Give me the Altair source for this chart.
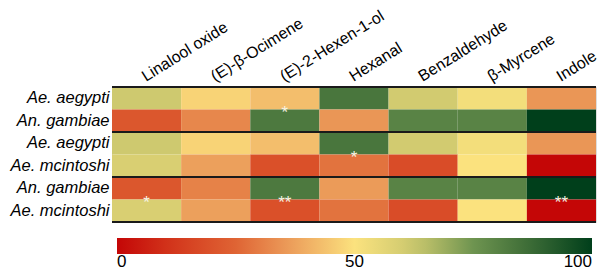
import altair as alt
import pandas as pd

compounds = ["Linalool oxide", "(E)-β-Ocimene", "(E)-2-Hexen-1-ol", "Hexanal",
             "Benzaldehyde", "β-Myrcene", "Indole"]
row_names = ["Ae. aegypti", "An. gambiae", "Ae. aegypti", "Ae. mcintoshi",
             "An. gambiae", "Ae. mcintoshi"]

r0 = [62, 47, 43, 84, 61, 52, 35]
r1 = [21, 32, 83, 35, 80, 80, 100]
r2 = [62, 47, 43, 84, 61, 52, 35]
r3 = [59, 37, 19, 28, 18, 50, 0]
r4 = [21, 31, 83, 36, 80, 80, 100]
r5 = [59, 37, 19, 28, 18, 50, 0]
rows_values = [r0, r1, r2, r3, r4, r5]

# significance marks: (second row of pair, compound index, label)
star_rows = [1, 3, 5, 5, 5]
star_cols = [2, 3, 0, 2, 6]
star_text = ["*", "*", "*", "**", "**"]

pair_top_rows = [0, 2, 4]
bottom_row = [5]

color_stops = [0, 12.5, 25, 37.5, 50, 62.5, 75, 87.5, 100]
color_range = ["#c40606", "#d43a1e", "#df6434", "#eda25e", "#fbe27e",
               "#ccc86e", "#6e9450", "#3a6a35", "#003f1b"]

W = 484
H = 135

cells = pd.DataFrame([
    {"row": i, "compound": compounds[j], "value": rows_values[i][j]}
    for i in range(len(rows_values)) for j in range(len(compounds))
])
stars = pd.DataFrame({
    "row": star_rows,
    "compound": [compounds[c] for c in star_cols],
    "label": star_text,
})
tops = pd.DataFrame({"row": pair_top_rows})
bottoms = pd.DataFrame({"row": bottom_row})

label_expr = "[" + ",".join("'" + n + "'" for n in row_names) + "][datum.value]"

xenc = alt.X("compound:N", sort=compounds,
             scale=alt.Scale(paddingInner=0, paddingOuter=0),
             axis=alt.Axis(orient="top", title=None, labelAngle=328,
                           labelAlign="left", labelBaseline="bottom",
                           labelPadding=3, labelOffset=1, ticks=False,
                           domain=False, labelBound=False, labelOverlap=False,
                           labelFontSize=16, labelFont="Liberation Sans",
                           labelColor="#000000"))
yscale = alt.Scale(domain=list(range(6)), paddingInner=0, paddingOuter=0)
yaxis = alt.Axis(title=None, labelExpr=label_expr, ticks=False, domain=False,
                 labelPadding=3, labelFontSize=16.5, labelFontStyle="italic",
                 labelFont="Liberation Sans", labelColor="#000000")

heat = alt.Chart(cells).mark_rect().encode(
    x=xenc,
    y=alt.Y("row:O", scale=yscale, axis=yaxis),
    color=alt.Color("value:Q",
                    scale=alt.Scale(domain=color_stops, range=color_range,
                                    interpolate="rgb"),
                    legend=alt.Legend(title=None, orient="none", legendX=5,
                                      legendY=151, direction="horizontal",
                                      gradientLength=W - 9, gradientThickness=16,
                                      values=[0, 50, 100], labelFontSize=17,
                                      labelFont="Liberation Sans",
                                      labelColor="#000000", labelOffset=0,
                                      gradientStrokeWidth=0)),
)

top_rules = alt.Chart(tops).mark_rule(color="#1a1a1a", strokeWidth=2).encode(
    y=alt.Y("row:O", scale=yscale, bandPosition=0),
    x=alt.value(0), x2=alt.value(W),
)
bottom_rules = alt.Chart(bottoms).mark_rule(color="#1a1a1a", strokeWidth=2).encode(
    y=alt.Y("row:O", scale=yscale, bandPosition=1),
    x=alt.value(0), x2=alt.value(W),
)

star_marks = alt.Chart(stars).mark_text(
    color="#f6f3e4", fontSize=17, font="Liberation Sans",
    baseline="alphabetic", dy=8,
).encode(
    x=alt.X("compound:N", sort=compounds),
    y=alt.Y("row:O", scale=yscale, bandPosition=0),
    text="label:N",
)

chart = alt.layer(heat, top_rules, bottom_rules, star_marks).properties(
    width=W, height=H,
    autosize=alt.AutoSizeParams(type="none"),
    padding={"left": 104, "top": 79, "right": 11, "bottom": 60},
).configure_view(stroke=None).configure(background="#ffffff")

chart.save("out.html", embed_options={"renderer": "svg", "actions": False})
